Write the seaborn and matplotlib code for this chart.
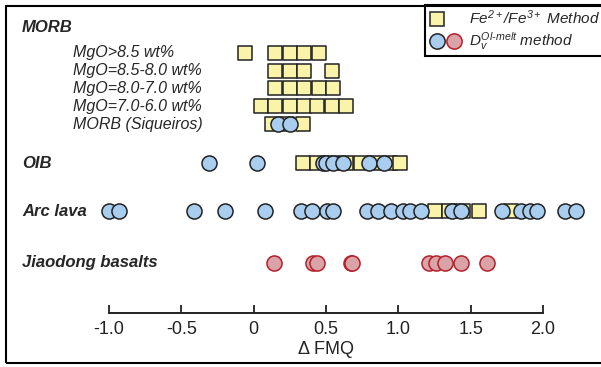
import matplotlib
matplotlib.use('Agg')
import pandas as pd
import matplotlib.pyplot as plt
import seaborn as sns
from matplotlib.patches import Rectangle
from matplotlib.lines import Line2D
from matplotlib.legend_handler import HandlerTuple

# delta FMQ values
# Fe2+/Fe3+ method (squares)
morb_gt85_fe = [-0.06, 0.15, 0.25, 0.35, 0.45]
morb_85_80_fe = [0.15, 0.25, 0.35, 0.54]
morb_80_70_fe = [0.15, 0.25, 0.35, 0.45, 0.55]
morb_70_60_fe = [0.05, 0.15, 0.25, 0.35, 0.44, 0.54, 0.64]
siq_fe = [0.13, 0.23, 0.34]
oib_fe = [0.34, 0.44, 0.54, 0.64, 0.74, 0.84, 0.94, 1.01]
arc_fe = [1.25, 1.35, 1.45, 1.56, 1.78]

# D_v Ol-melt method (circles)
siq_dv = [0.17, 0.25]
oib_dv = [-0.31, 0.02, 0.48, 0.50, 0.55, 0.62, 0.80, 0.90]
arc_dv = [-1.0, -0.93, -0.41, -0.20, 0.08, 0.33, 0.40, 0.51, 0.55, 0.78, 0.86,
          0.95, 1.03, 1.08, 1.16, 1.37, 1.43, 1.72, 1.85, 1.91, 1.96, 2.15, 2.23]
jd_dv = [0.14, 0.41, 0.44, 0.67, 0.68, 1.21, 1.26, 1.32, 1.43, 1.61]

tick_vals = [-1.0, -0.5, 0, 0.5, 1.0, 1.5, 2.0]
tick_labels = ['-1.0', '-0.5', '0', '0.5', '1.0', '1.5', '2.0']

# row layout (pixels from top of the figure)
row_pos = {'gt85': 53, '85_80': 71, '80_70': 88, '70_60': 106, 'siq': 124,
           'oib': 163, 'arc': 211, 'jd': 263}

fe_groups = [('gt85', morb_gt85_fe), ('85_80', morb_85_80_fe), ('80_70', morb_80_70_fe),
             ('70_60', morb_70_60_fe), ('siq', siq_fe), ('oib', oib_fe), ('arc', arc_fe)]
dv_groups = [('siq', siq_dv), ('oib', oib_dv), ('arc', arc_dv)]

df_fe = pd.DataFrame([(v, row_pos[k]) for k, vals in fe_groups for v in vals], columns=['dfmq', 'y'])
df_dv = pd.DataFrame([(v, row_pos[k]) for k, vals in dv_groups for v in vals], columns=['dfmq', 'y'])
df_jd = pd.DataFrame({'dfmq': jd_dv, 'y': row_pos['jd']})

yellow = '#f9f4a9'
blue = '#a9cdef'
red_face = '#d9a3a8'
red_edge = '#b51f2a'
dark = '#222222'

sns.set_style('white')
plt.rcParams['font.family'] = ['Liberation Sans', 'DejaVu Sans']
plt.rcParams['mathtext.fontset'] = 'custom'
plt.rcParams['mathtext.rm'] = 'Liberation Sans:italic'
plt.rcParams['mathtext.it'] = 'Liberation Sans:italic'
plt.rcParams['mathtext.bf'] = 'Liberation Sans:bold'

W, H = 601, 367
fig = plt.figure(figsize=(W / 100, H / 100), dpi=100)
ax = fig.add_axes([0, 0, 1, 1])
ax.set_facecolor('none')

# x = -1 sits at pixel 109, x = 2 at pixel 543
px_m1, px_2 = 109.0, 543.0
sc = (px_2 - px_m1) / 3.0
ax.set_xlim(-1 - px_m1 / sc, -1 + (W - px_m1) / sc)
ax.set_ylim(H, 0)

sns.scatterplot(data=df_fe, x='dfmq', y='y', marker='s', s=112, color=yellow,
                edgecolor=dark, linewidth=1.1, ax=ax, zorder=2)
sns.scatterplot(data=df_dv, x='dfmq', y='y', marker='o', s=118, color=blue,
                edgecolor=dark, linewidth=1.1, ax=ax, zorder=3)
sns.scatterplot(data=df_jd, x='dfmq', y='y', marker='o', s=118, color=red_face,
                edgecolor=red_edge, linewidth=1.1, ax=ax, zorder=3)

# group labels
ax.text(22 / W, 1 - 27 / H, 'MORB', transform=ax.transAxes, fontsize=12,
        fontweight='bold', style='italic', va='center')
sub_labels = [('gt85', 'MgO>8.5 wt%'), ('85_80', 'MgO=8.5-8.0 wt%'),
              ('80_70', 'MgO=8.0-7.0 wt%'), ('70_60', 'MgO=7.0-6.0 wt%'),
              ('siq', 'MORB (Siqueiros)')]
for k, lab in sub_labels:
    ax.text(73 / W, 1 - row_pos[k] / H, lab, transform=ax.transAxes,
            fontsize=11.5, style='italic', va='center')
for k, lab in [('oib', 'OIB'), ('arc', 'Arc lava'), ('jd', 'Jiaodong basalts')]:
    ax.text(22 / W, 1 - row_pos[k] / H, lab, transform=ax.transAxes, fontsize=12,
            fontweight='bold', style='italic', va='center')

# x axis
for s in ['left', 'right', 'top']:
    ax.spines[s].set_visible(False)
ax.spines['bottom'].set_position(('data', 313))
ax.spines['bottom'].set_bounds(-1, 2)
ax.spines['bottom'].set_linewidth(1.4)
ax.spines['bottom'].set_color(dark)
ax.set_xticks(tick_vals)
ax.set_xticklabels(tick_labels)
ax.set_yticks([])
ax.tick_params(axis='x', bottom=True, direction='in', length=6, width=1.3,
               pad=6, labelsize=13, colors=dark)
ax.set_xlabel('')
ax.set_ylabel('')
ax.text(0.5, 349, '\u0394 FMQ', fontsize=13, ha='center', va='center', color=dark)

# outer frame
fig.add_artist(Rectangle((6 / W, 4 / H), 2.0, (363 - 6) / H, fill=False,
                         linewidth=1.5, edgecolor='black', transform=fig.transFigure,
                         clip_on=False))

# legend
sq = Line2D([], [], marker='s', ls='none', ms=10.5, mfc=yellow, mec=dark, mew=1.1)
blank = Line2D([], [], ls='none')
bc = Line2D([], [], marker='o', ls='none', ms=11, mfc=blue, mec=dark, mew=1.1)
rc = Line2D([], [], marker='o', ls='none', ms=11, mfc=red_face, mec=red_edge, mew=1.1)
leg = ax.legend([(sq, blank), (bc, rc)],
                [r'$Fe^{2+}/Fe^{3+}$ Method', r'$D_v^{Ol\text{-}melt}$ method'],
                handler_map={tuple: HandlerTuple(ndivide=None, pad=0.1)},
                loc='upper left', bbox_to_anchor=(425 / W, 1 - 5 / H),
                bbox_transform=fig.transFigure, frameon=True, fancybox=False,
                edgecolor='black', borderaxespad=0, borderpad=0.25,
                handlelength=2.2, handletextpad=0.45, labelspacing=0.2,
                prop={'size': 11, 'style': 'italic'})
leg.get_frame().set_linewidth(1.5)
leg.get_frame().set_alpha(1)

fig.savefig('out.png', dpi=100)
